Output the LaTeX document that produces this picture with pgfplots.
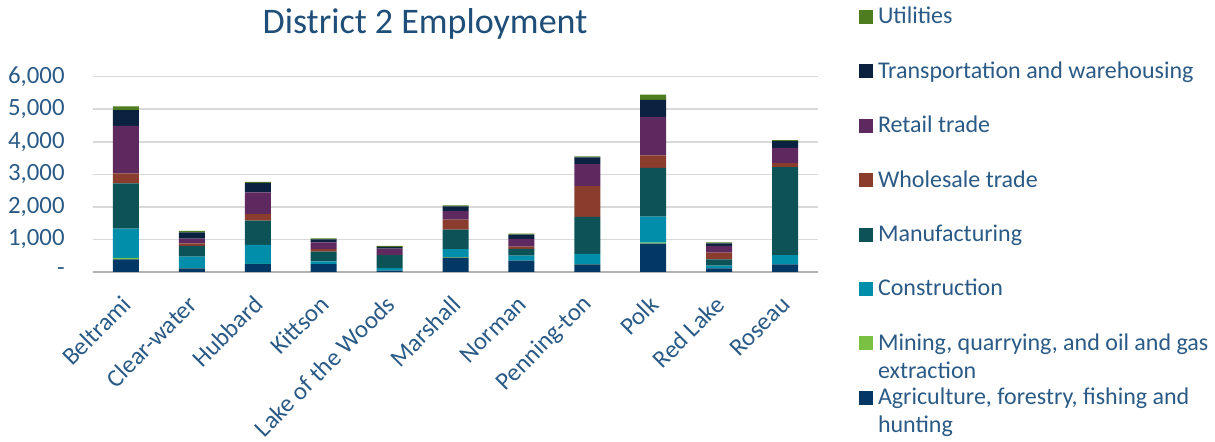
\documentclass[border=0pt]{standalone}
\usepackage{pgfplots}
\pgfplotsset{compat=1.18}
\usepackage{fontspec}
\setmainfont{Carlito}
\definecolor{txt}{HTML}{1F4E79}
\definecolor{tick}{HTML}{2A5A85}
\definecolor{cAgri}{HTML}{023863}
\definecolor{cMin}{HTML}{7AC143}
\definecolor{cCon}{HTML}{008EAA}
\definecolor{cMan}{HTML}{0D5257}
\definecolor{cWho}{HTML}{8A3D2C}
\definecolor{cRet}{HTML}{5D295F}
\definecolor{cTra}{HTML}{0A2240}
\definecolor{cUti}{HTML}{4E7D1F}
\newcommand{\LE}[2]{\begin{tabular}[t]{@{}l@{}}#1\\#2\end{tabular}}
\pgfplotsset{sq/.style={legend image code/.code={\fill[##1] (0pt,0pt) rectangle (7pt,7pt);}}}
\begin{document}
\begin{tikzpicture}
\path[use as bounding box] (0pt,0pt) rectangle (607.5pt,221pt);
\node[anchor=base, font=\fontsize{18}{21}\selectfont, text=txt, inner sep=0pt] at (212.5pt,204pt) {District 2 Employment};
\begin{axis}[
  at={(46.5pt,85pt)}, anchor=south west,
  scale only axis, width=362.5pt, height=97.65pt,
  ybar stacked, bar width=13pt,
  ymin=0, ymax=6000, xmin=-0.5, xmax=10.5,
  xtick={0,...,10},
  xticklabels={Beltrami,Clear-water,Hubbard,Kittson,Lake of the Woods,Marshall,Norman,Penning-ton,Polk,Red Lake,Roseau},
  xticklabel style={rotate=45, anchor=east, font=\fontsize{12.4}{15}\selectfont, text=tick, inner sep=0pt, xshift=-9.6pt, yshift=-10.3pt},
  ytick={0,1000,...,6000},
  yticklabels={{-\hspace{6.5pt}},{1,000},{2,000},{3,000},{4,000},{5,000},{6,000}},
  yticklabel style={font=\fontsize{12.4}{15}\selectfont, text=tick, inner sep=0pt, xshift=-14pt},
  tick style={draw=none},
  axis x line*=bottom, axis y line*=left,
  y axis line style={draw=none},
  x axis line style={draw=black!30, line width=0.8pt},
  ymajorgrids, grid style={draw=black!15, line width=0.8pt},
  reverse legend,
  legend style={at={(1.05655,1.3702)}, anchor=north west, draw=none, fill=none,
    inner sep=0pt, outer sep=0pt, column sep=2.5pt, row sep=15.9pt,
    font=\fontsize{12}{14}\selectfont, text=tick,
    cells={anchor=base west}, nodes={inner sep=0pt}},
]
\addplot[fill=cAgri, draw=none, sq] coordinates {(0,390)(1,110)(2,245)(3,245)(4,40)(5,440)(6,350)(7,235)(8,870)(9,110)(10,235)};
\addlegendentry{\LE{Agriculture, forestry, fishing and}{hunting}}
\addplot[fill=cMin, draw=none, sq] coordinates {(0,40)(1,5)(2,5)(3,0)(4,0)(5,20)(6,0)(7,5)(8,30)(9,0)(10,0)};
\addlegendentry{\LE{Mining, quarrying, and oil and gas}{extraction}}
\addplot[fill=cCon, draw=none, sq] coordinates {(0,900)(1,355)(2,580)(3,85)(4,80)(5,245)(6,155)(7,315)(8,800)(9,85)(10,285)};
\addlegendentry{\LE{Construction}{}}
\addplot[fill=cMan, draw=none, sq] coordinates {(0,1390)(1,330)(2,745)(3,295)(4,400)(5,595)(6,205)(7,1135)(8,1495)(9,195)(10,2700)};
\addlegendentry{\LE{Manufacturing}{}}
\addplot[fill=cWho, draw=none, sq] coordinates {(0,310)(1,80)(2,205)(3,80)(4,5)(5,305)(6,70)(7,950)(8,390)(9,205)(10,125)};
\addlegendentry{\LE{Wholesale trade}{}}
\addplot[fill=cRet, draw=none, sq] coordinates {(0,1460)(1,145)(2,665)(3,205)(4,195)(5,275)(6,235)(7,675)(8,1180)(9,205)(10,470)};
\addlegendentry{\LE{Retail trade}{}}
\addplot[fill=cTra, draw=none, sq] coordinates {(0,480)(1,195)(2,290)(3,90)(4,50)(5,135)(6,135)(7,205)(8,520)(9,80)(10,205)};
\addlegendentry{\LE{Transportation and warehousing}{}}
\addplot[fill=cUti, draw=none, sq] coordinates {(0,120)(1,40)(2,30)(3,30)(4,30)(5,30)(6,30)(7,30)(8,165)(9,30)(10,30)};
\addlegendentry{\LE{Utilities}{}}
\end{axis}
\end{tikzpicture}
\end{document}
